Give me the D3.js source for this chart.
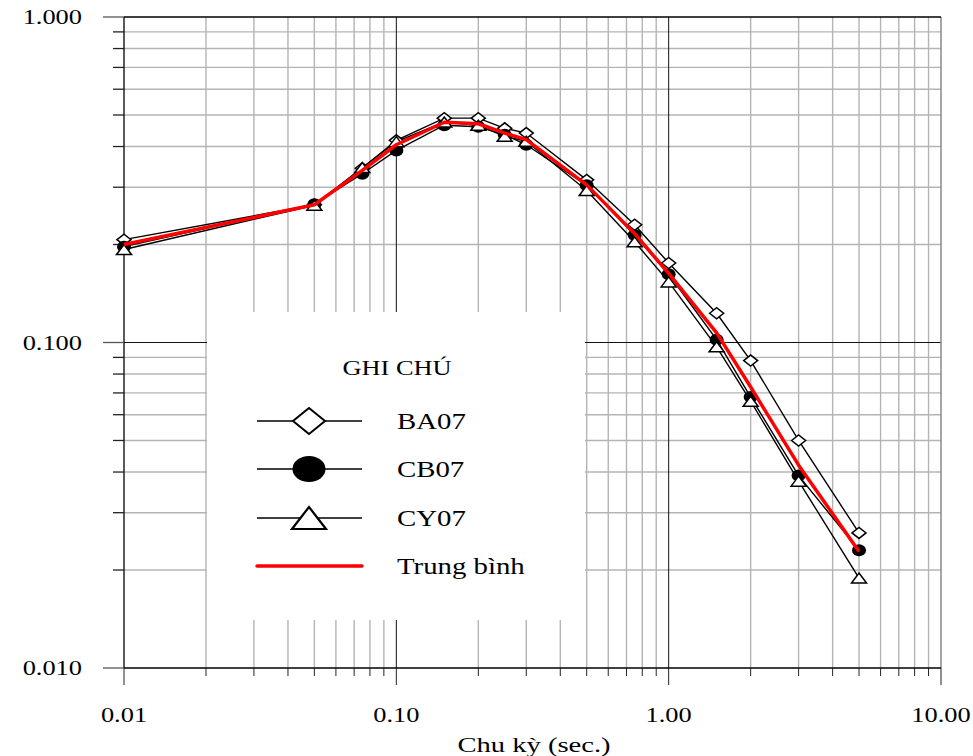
<!DOCTYPE html>
<html><head><meta charset="utf-8">
<script src="https://cdn.jsdelivr.net/npm/d3@7"></script>
<style>body{margin:0;background:#fff}svg{display:block}text{font-family:"Liberation Serif","Times New Roman",serif;fill:#000}</style>
</head><body>
<svg id="c" width="973" height="756"></svg>
<script>
const periods = [0.01, 0.05, 0.075, 0.1, 0.15, 0.2, 0.25, 0.3, 0.5, 0.75, 1.0, 1.5, 2, 3, 5];
const ba07 = [0.207, 0.265, 0.343, 0.418, 0.489, 0.489, 0.455, 0.44, 0.316, 0.23, 0.1755, 0.123, 0.088, 0.050, 0.026];
const cb07 = [0.197, 0.266, 0.33, 0.389, 0.465, 0.46, 0.435, 0.405, 0.304, 0.214, 0.162, 0.102, 0.068, 0.039, 0.023];
const cy07 = [0.193, 0.264, 0.345, 0.414, 0.476, 0.465, 0.43, 0.415, 0.293, 0.204, 0.1535, 0.097, 0.066, 0.0375, 0.0189];
const mean = [0.2, 0.265, 0.338, 0.405, 0.475, 0.47, 0.44, 0.42, 0.305, 0.216, 0.163, 0.107, 0.073, 0.042, 0.0228];
const xTickVals = [0.01, 0.1, 1, 10];
const xTickLabels = ["0.01", "0.10", "1.00", "10.00"];
const yTickVals = [0.01, 0.1, 1];
const yTickLabels = ["0.010", "0.100", "1.000"];
const seriesNames = ["BA07", "CB07", "CY07", "Trung bình"];
const legendTitle = "GHI CHÚ";
const xTitle = "Chu kỳ (sec.)";

const svg = d3.select("#c");
const L = 124, R = 941, T = 17, B = 668;
const x = d3.scaleLog().domain([0.01, 10]).range([L, R]);
const y = d3.scaleLog().domain([0.01, 1]).range([B, T]);
const SX = 1.2;

function label(g, px, py, str, size, anchor, sx) {
  g.append("g").attr("transform", `translate(${px},${py}) scale(${sx || SX},1)`)
    .append("text").attr("text-anchor", anchor).attr("font-size", size).text(str);
}

// minor values
const minorX = [], minorY = [];
[0.01, 0.1, 1].forEach(d => { for (let k = 2; k <= 9; k++) minorX.push(d * k); });
[0.01, 0.1].forEach(d => { for (let k = 2; k <= 9; k++) minorY.push(d * k); });

const grid = svg.append("g");
grid.selectAll(".vx").data(minorX).enter().append("line")
  .attr("x1", d => x(d)).attr("x2", d => x(d)).attr("y1", T).attr("y2", B)
  .attr("stroke", "#b4b4b4").attr("stroke-width", 1.4);
grid.selectAll(".hy").data(minorY).enter().append("line")
  .attr("y1", d => y(d)).attr("y2", d => y(d)).attr("x1", L).attr("x2", R)
  .attr("stroke", "#b4b4b4").attr("stroke-width", 1.4);
// major inner lines
grid.selectAll(".mx").data([0.1, 1]).enter().append("line")
  .attr("x1", d => x(d)).attr("x2", d => x(d)).attr("y1", T).attr("y2", B)
  .attr("stroke", "#111").attr("stroke-width", 1);
grid.selectAll(".my").data([0.1]).enter().append("line")
  .attr("y1", d => y(d)).attr("y2", d => y(d)).attr("x1", L).attr("x2", R)
  .attr("stroke", "#111").attr("stroke-width", 1);

// legend box (white, covers grid)
svg.append("rect").attr("x", 207).attr("y", 312).attr("width", 378).attr("height", 308).attr("fill", "#fff");

// frame
svg.append("line").attr("x1", R).attr("x2", R).attr("y1", T).attr("y2", B).attr("stroke", "#888").attr("stroke-width", 1.5);
svg.append("line").attr("x1", L).attr("x2", L).attr("y1", T).attr("y2", B).attr("stroke", "#000").attr("stroke-width", 1.3);
svg.append("line").attr("x1", L).attr("x2", R).attr("y1", B).attr("y2", B).attr("stroke", "#000").attr("stroke-width", 1.3);
svg.append("line").attr("x1", L).attr("x2", R).attr("y1", T).attr("y2", T).attr("stroke", "#000").attr("stroke-width", 1.3);

// y ticks
svg.selectAll(".ytm").data(minorY).enter().append("line")
  .attr("x1", L - 11).attr("x2", L).attr("y1", d => y(d)).attr("y2", d => y(d))
  .attr("stroke", "#222").attr("stroke-width", 1.3);
svg.selectAll(".ytM").data(yTickVals).enter().append("line")
  .attr("x1", L - 21).attr("x2", L).attr("y1", d => y(d)).attr("y2", d => y(d))
  .attr("stroke", "#555").attr("stroke-width", 1.3);
yTickVals.forEach((v, i) => label(svg, 82, y(v) + 7, yTickLabels[i], 22, "end"));

// x ticks
svg.selectAll(".xtm").data(minorX).enter().append("line")
  .attr("x1", d => x(d)).attr("x2", d => x(d)).attr("y1", B).attr("y2", B + 8)
  .attr("stroke", "#222").attr("stroke-width", 1);
svg.selectAll(".xtM").data(xTickVals).enter().append("line")
  .attr("x1", d => x(d)).attr("x2", d => x(d)).attr("y1", B).attr("y2", B + 17)
  .attr("stroke", "#222").attr("stroke-width", 1);
xTickVals.forEach((v, i) => label(svg, x(v), 722, xTickLabels[i], 22, "middle"));
label(svg, 534, 752, xTitle, 22, "middle", 1.3);

// markers
function diamond(g, cx, cy, w, h, sw) {
  g.append("path").attr("d", `M${cx - w},${cy} L${cx},${cy - h} L${cx + w},${cy} L${cx},${cy + h} Z`)
    .attr("fill", "#fff").attr("stroke", "#000").attr("stroke-width", sw);
}
function circ(g, cx, cy, rx, ry) {
  g.append("ellipse").attr("cx", cx).attr("cy", cy).attr("rx", rx).attr("ry", ry).attr("fill", "#000");
}
function tri(g, cx, cy, w, h, sw) {
  g.append("path").attr("d", `M${cx - w},${cy + h / 2} L${cx + w},${cy + h / 2} L${cx},${cy - h / 2} Z`)
    .attr("fill", "#fff").attr("stroke", "#000").attr("stroke-width", sw);
}

const line = d3.line().x(d => x(d[0])).y(d => y(d[1]));
const plot = svg.append("g");
const series = [ba07, cb07, cy07];
series.forEach(s => {
  plot.append("path").attr("d", line(periods.map((p, i) => [p, s[i]])))
    .attr("fill", "none").attr("stroke", "#000").attr("stroke-width", 1.4);
});
periods.forEach((p, i) => diamond(plot, x(p), y(ba07[i]), 7, 5.5, 1.5));
periods.forEach((p, i) => circ(plot, x(p), y(cb07[i]), 7, 6));
periods.forEach((p, i) => tri(plot, x(p), y(cy07[i]), 7.5, 10, 1.5));
plot.append("path").attr("d", line(periods.map((p, i) => [p, mean[i]])))
  .attr("fill", "none").attr("stroke", "#ff0000").attr("stroke-width", 3.5).attr("stroke-linejoin", "round");

// legend
const lg = svg.append("g");
label(lg, 397, 375, legendTitle, 22, "middle");
const rowsY = [421, 469, 518, 566];
rowsY.slice(0, 3).forEach(ry => {
  lg.append("line").attr("x1", 257).attr("x2", 362).attr("y1", ry).attr("y2", ry).attr("stroke", "#000").attr("stroke-width", 1.6);
});
diamond(lg, 309, rowsY[0], 16, 13, 2);
circ(lg, 309, rowsY[1], 16.5, 13);
tri(lg, 309, rowsY[2], 17, 22, 2.2);
lg.append("line").attr("x1", 257).attr("x2", 362).attr("y1", rowsY[3]).attr("y2", rowsY[3])
  .attr("stroke", "#ff0000").attr("stroke-width", 3.5).attr("stroke-linecap", "round");
seriesNames.forEach((n, i) => label(lg, 397, rowsY[i] + 8, n, 24, "start"));
</script>
</body></html>
